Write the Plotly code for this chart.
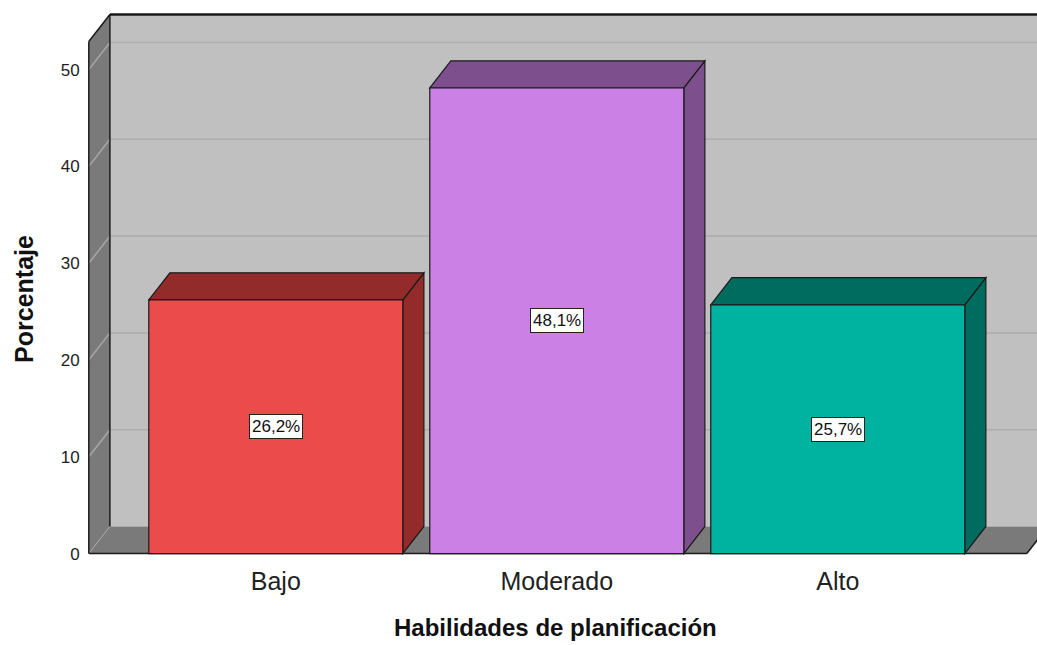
import plotly.graph_objects as go

# Data
categories = ["Bajo", "Moderado", "Alto"]
percentages = [26.2, 48.1, 25.7]
value_labels = ["26,2%", "48,1%", "25,7%"]
front_colors = ["#EC4B4B", "#CB80E5", "#00B3A0"]
shade_colors = ["#932B2B", "#7D4F8C", "#006B5F"]
y_ticks = [0, 10, 20, 30, 40, 50]

# 3D frame geometry (data units)
Y_MAX = 52.9          # top of the front axis
DEPTH_Y = 2.8         # vertical depth offset
DEPTH_X = 0.075       # horizontal depth offset
HALF_W = 0.452        # half bar width
X_LEFT = -0.6655      # front left edge of the frame
X_RIGHT = 2.6726      # front right edge of the floor
X_END = 2.75          # back wall runs off the right edge

WALL = "#C0C0C0"
SIDE_WALL = "#7A7A7A"
GRID_BACK = "#ADADAD"
GRID_SIDE = "#A8A8A8"
EDGE = "#1A1A1A"
FONT = "Liberation Sans, Arial"


def poly(points):
    return "M " + " L ".join(f"{x},{y}" for x, y in points) + " Z"


shapes = []

# back wall
shapes.append(dict(type="rect", xref="x", yref="y", layer="below",
                   x0=X_LEFT + DEPTH_X, x1=X_END, y0=DEPTH_Y, y1=Y_MAX + DEPTH_Y,
                   fillcolor=WALL, line=dict(width=0)))
# left wall
shapes.append(dict(type="path", xref="x", yref="y", layer="below",
                   path=poly([(X_LEFT, 0), (X_LEFT + DEPTH_X, DEPTH_Y),
                              (X_LEFT + DEPTH_X, Y_MAX + DEPTH_Y), (X_LEFT, Y_MAX)]),
                   fillcolor=SIDE_WALL, line=dict(width=0)))
# floor
shapes.append(dict(type="path", xref="x", yref="y", layer="below",
                   path=poly([(X_LEFT, 0), (X_RIGHT, 0), (X_RIGHT + DEPTH_X, DEPTH_Y),
                              (X_LEFT + DEPTH_X, DEPTH_Y)]),
                   fillcolor=SIDE_WALL, line=dict(width=0)))
# grid lines on back and left walls
for v in y_ticks[1:]:
    shapes.append(dict(type="line", xref="x", yref="y", layer="below",
                       x0=X_LEFT + DEPTH_X, x1=X_END, y0=v + DEPTH_Y, y1=v + DEPTH_Y,
                       line=dict(color=GRID_BACK, width=1.5)))
    shapes.append(dict(type="line", xref="x", yref="y", layer="below",
                       x0=X_LEFT, x1=X_LEFT + DEPTH_X, y0=v, y1=v + DEPTH_Y,
                       line=dict(color=GRID_SIDE, width=1.5)))
shapes.append(dict(type="line", xref="x", yref="y", layer="below",
                   x0=X_LEFT, x1=X_LEFT + DEPTH_X, y0=0, y1=DEPTH_Y,
                   line=dict(color=GRID_SIDE, width=1)))

# frame edges
edge = dict(color=EDGE, width=1.5)
for x0, y0, x1, y1 in [
    (X_LEFT, 0, X_LEFT, Y_MAX),
    (X_LEFT, Y_MAX, X_LEFT + DEPTH_X, Y_MAX + DEPTH_Y),
    (X_LEFT + DEPTH_X, DEPTH_Y, X_LEFT + DEPTH_X, Y_MAX + DEPTH_Y),
    (X_LEFT + DEPTH_X, Y_MAX + DEPTH_Y, X_END, Y_MAX + DEPTH_Y),
    (X_LEFT, 0, X_RIGHT, 0),
    (X_RIGHT, 0, X_RIGHT + DEPTH_X, DEPTH_Y),
]:
    shapes.append(dict(type="line", xref="x", yref="y", layer="below",
                       x0=x0, x1=x1, y0=y0, y1=y1, line=edge))
shapes[-3]["line"] = dict(color=EDGE, width=2.5)

# 3D bars
bar_edge = dict(color=EDGE, width=1.2)
for i, v in enumerate(percentages):
    xl, xr = i - HALF_W, i + HALF_W
    # right side face
    shapes.append(dict(type="path", xref="x", yref="y", layer="above",
                       path=poly([(xr, 0), (xr + DEPTH_X, DEPTH_Y),
                                  (xr + DEPTH_X, v + DEPTH_Y), (xr, v)]),
                       fillcolor=shade_colors[i], line=bar_edge))
    # top face
    shapes.append(dict(type="path", xref="x", yref="y", layer="above",
                       path=poly([(xl, v), (xl + DEPTH_X, v + DEPTH_Y),
                                  (xr + DEPTH_X, v + DEPTH_Y), (xr, v)]),
                       fillcolor=shade_colors[i], line=bar_edge))
    # front face
    shapes.append(dict(type="rect", xref="x", yref="y", layer="above",
                       x0=xl, x1=xr, y0=0, y1=v,
                       fillcolor=front_colors[i], line=bar_edge))

fig = go.Figure()

# invisible trace to establish axes
fig.add_trace(go.Scatter(x=[0, 1, 2], y=[0, 0, 0], mode="markers",
                         marker=dict(opacity=0), hoverinfo="skip", showlegend=False))

annotations = []
for i, v in enumerate(percentages):
    annotations.append(dict(x=i, y=v / 2, xref="x", yref="y", text=value_labels[i],
                            showarrow=False, bgcolor="white", bordercolor="#222222",
                            borderwidth=1, borderpad=2,
                            font=dict(family=FONT, size=17, color="#111111")))

annotations.append(dict(x=-0.066, y=0.473, xref="paper", yref="paper",
                        text="<b>Porcentaje</b>", textangle=-90, showarrow=False,
                        xanchor="center", yanchor="middle",
                        font=dict(family=FONT, size=25, color="#111111")))
annotations.append(dict(x=0.494, y=-0.132, xref="paper", yref="paper",
                        text="<b>Habilidades de planificación</b>", showarrow=False,
                        xanchor="center", yanchor="middle",
                        font=dict(family=FONT, size=24, color="#111111")))

fig.update_layout(
    width=1037, height=645,
    margin=dict(l=86, r=0, t=12, b=89),
    paper_bgcolor="white", plot_bgcolor="white",
    shapes=shapes, annotations=annotations,
    xaxis=dict(range=[-0.6755, 2.709], tickvals=[0, 1, 2], ticktext=categories,
               showgrid=False, zeroline=False, showline=False,
               ticks="outside", ticklen=3, tickcolor="rgba(0,0,0,0)",
               tickfont=dict(family=FONT, size=25, color="#222222")),
    yaxis=dict(range=[-0.25, 55.95], tickvals=y_ticks,
               showgrid=False, zeroline=False, showline=False,
               ticks="outside", ticklen=2, tickcolor="rgba(0,0,0,0)",
               tickfont=dict(family=FONT, size=17, color="#222222")),
)

fig.write_html("out.html")
